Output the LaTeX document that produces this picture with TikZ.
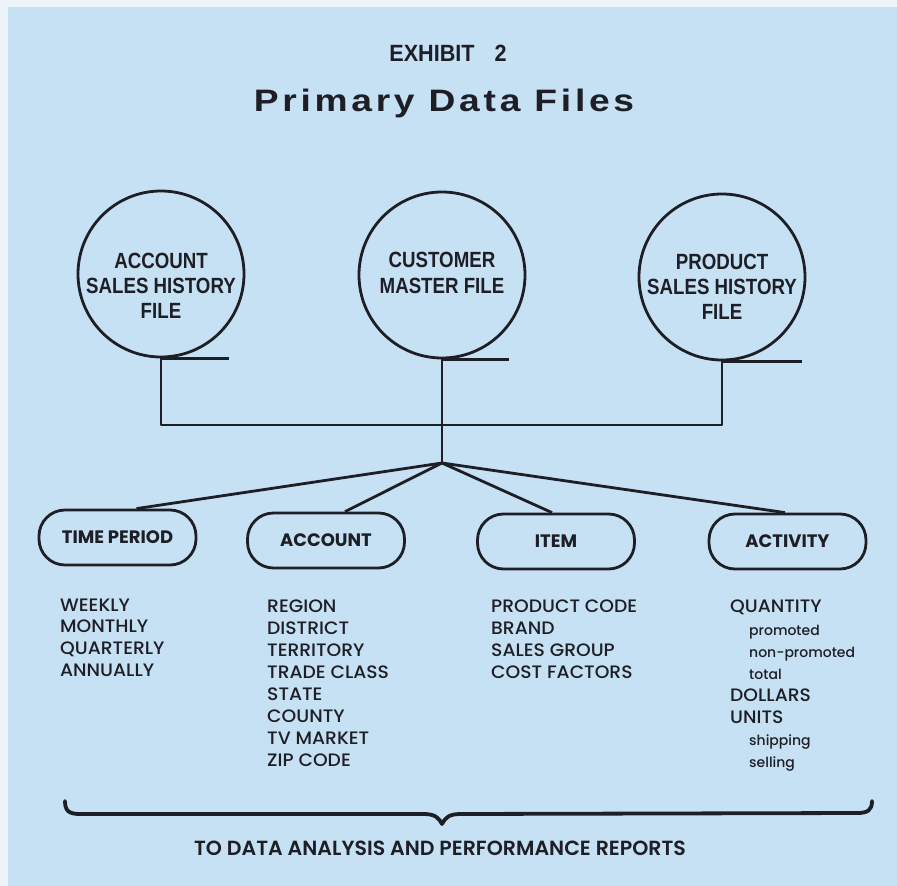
\documentclass[tikz,border=0pt]{standalone}
\usepackage{fontspec}
\setmainfont{Liberation Sans}
\newfontfamily\headfont[FakeStretch=0.92]{Liberation Sans}
\newfontfamily\condfont[FakeStretch=0.85]{Liberation Sans}
\newfontfamily\titlefont[LetterSpace=12, FakeStretch=1.2]{Liberation Sans}
\newfontfamily\geofont[FakeStretch=1.04]{Poppins Medium}
\newfontfamily\geosubfont{Poppins Medium}
\newfontfamily\geoboldfont{Poppins SemiBold}
\newfontfamily\geoheavyfont{Poppins}
\definecolor{paper}{RGB}{198,225,243}
\definecolor{paperedge}{RGB}{236,243,249}
\definecolor{ink}{RGB}{30,30,38}
\tikzset{
  ink line/.style={draw=ink, line width=2.8pt, line join=round},
  filebox/.style={circle, draw=ink, line width=2.8pt, minimum size=166pt, inner sep=0pt},
  filetext/.style={align=center, inner sep=0pt, text=ink,
    font=\condfont\bfseries\fontsize{22}{25.3}\selectfont},
  groupbox/.style={rectangle, rounded corners=26pt, draw=ink, line width=2.8pt,
    minimum width=157pt, minimum height=55pt, inner sep=0pt, text=ink,
    font=\geoheavyfont\bfseries\fontsize{18}{20}\selectfont},
  listitem/.style={anchor=base west, inner sep=0pt, text=ink,
    font=\geofont\fontsize{18}{20}\selectfont},
  subitem/.style={anchor=base west, inner sep=0pt, text=ink,
    font=\geosubfont\fontsize{14}{18}\selectfont},
}
\begin{document}
\begin{tikzpicture}[x=1pt, y=-1pt]
% page
\fill[paperedge] (0,0) rectangle (897,886);
\fill[paper] (8,7) rectangle (897,886);
\useasboundingbox (0,0) rectangle (897,886);

% headings
\node[text=ink, font=\headfont\bfseries\fontsize{23.5}{26}\selectfont, anchor=base] (exhibit) at (448,61) {EXHIBIT\hspace{20pt}2};
\node[text=ink, font=\titlefont\bfseries\fontsize{31}{34}\selectfont, anchor=base] (title) at (444,111) {Primary Data Files};

% file circles
\node[filebox] (acct) at (161,274) {};
\node[filebox] (cust) at (442,275) {};
\node[filebox] (prod) at (722,277) {};
\node[filetext] (acct-name) at (161,286) {ACCOUNT\\SALES HISTORY\\FILE};
\node[filetext] (cust-name) at (442,273) {CUSTOMER\\MASTER FILE};
\node[filetext] (prod-name) at (722,287) {PRODUCT\\SALES HISTORY\\FILE};

% tails under the circles
\draw[ink line] (acct.south) -- ++(68,0);
\draw[ink line] (cust.south) -- ++(67,0);
\draw[ink line] (prod.south) -- ++(80,0);

% collecting bus and junction
\coordinate (bus) at (0,425);
\coordinate (hub) at (cust.south |- 0,463);
\draw[ink line] (acct.south) -- (acct.south |- bus) -- (prod.south |- bus) -- (prod.south);
\draw[ink line] (cust.south) -- (hub);

% key groups
\node[groupbox] (time) at (117.5,537.5) {TIME PERIOD};
\node[groupbox] (account) at (326,540.5) {ACCOUNT};
\node[groupbox] (item) at (556,541.5) {ITEM};
\node[groupbox] (activity) at (787.5,541.5) {ACTIVITY};

\draw[ink line] (hub) -- ([xshift=19pt]time.north);
\draw[ink line] (hub) -- ([xshift=19pt]account.north);
\draw[ink line] (hub) -- ([xshift=-4pt]item.north);
\draw[ink line] (hub) -- ([xshift=-2.5pt]activity.north);

% attribute lists
\foreach \t [count=\i] in {WEEKLY,MONTHLY,QUARTERLY,ANNUALLY}
  \node[listitem] (tp\i) at (60,{611+21.9*(\i-1)}) {\t};
\foreach \t [count=\i] in {REGION,DISTRICT,TERRITORY,TRADE CLASS,STATE,COUNTY,TV MARKET,ZIP CODE}
  \node[listitem] (ac\i) at (267,{612+22.1*(\i-1)}) {\t};
\foreach \t [count=\i] in {PRODUCT CODE,BRAND,SALES GROUP,COST FACTORS}
  \node[listitem] (it\i) at (491,{612+22.2*(\i-1)}) {\t};

\node[listitem] (av1) at (730,612) {QUANTITY};
\node[subitem]  (av2) at (749,635) {promoted};
\node[subitem]  (av3) at (749,657) {non-promoted};
\node[subitem]  (av4) at (749,679) {total};
\node[listitem] (av5) at (730,701) {DOLLARS};
\node[listitem] (av6) at (730,723) {UNITS};
\node[subitem]  (av7) at (749,745) {shipping};
\node[subitem]  (av8) at (749,767) {selling};

% closing brace
\draw[draw=ink, line width=3.8pt, line cap=round, line join=round]
  (65,801) .. controls (65,811) and (69,814) .. (80,814)
  -- (424,814) .. controls (435,814) and (439,818) .. (442,824)
  .. controls (445,818) and (449,814) .. (460,814)
  -- (857,813) .. controls (868,813) and (872,810) .. (872,801);

\node[text=ink, font=\geoboldfont\fontsize{20.5}{22}\selectfont, anchor=base] (reports) at (440,855)
  {TO DATA ANALYSIS AND PERFORMANCE REPORTS};
\end{tikzpicture}
\end{document}
